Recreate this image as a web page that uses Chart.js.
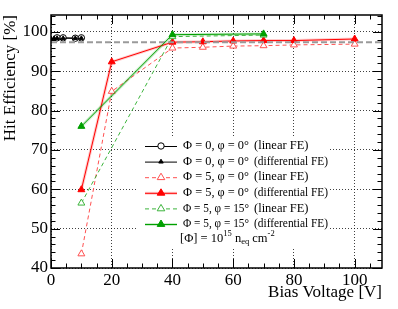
<!DOCTYPE html>
<html>
<head>
<meta charset="utf-8">
<script src="https://cdn.jsdelivr.net/npm/chart.js@4.4.1/dist/chart.umd.min.js"></script>
<style>
html, body { margin: 0; padding: 0; background: #fff; }
</style>
</head>
<body>
<canvas id="grafica" width="398" height="309"></canvas>
<script>
'use strict'
//Datos (voltaje en V, eficiencia en %)

//Φ = 0, φ = 0° (linear FE)
const x_lin0 = [2, 4, 8, 10];
const y_lin0 = [98.5, 98.5, 98.4, 98.5];
//Φ = 0, φ = 0° (differential FE)
const x_dif0 = [0, 1, 2, 4, 8, 10];
const y_dif0 = [98.3, 98.4, 98.4, 98.4, 98.4, 98.4];
//Φ = 5, φ = 0° (linear FE)
const x_lin5 = [10, 20, 40, 50, 60, 70, 80, 100];
const y_lin5 = [43.6, 84.9, 95.9, 96.1, 96.4, 96.5, 96.7, 96.9];
//Φ = 5, φ = 0° (differential FE)
const x_dif5 = [10, 20, 40, 50, 60, 70, 80, 100];
const y_dif5 = [59.9, 92.4, 97.4, 97.5, 97.7, 97.8, 97.8, 98.2];
//Φ = 5, φ = 15° (linear FE)
const x_lin15 = [10, 40, 70];
const y_lin15 = [56.5, 98.8, 99.2];
//Φ = 5, φ = 15° (differential FE)
const x_dif15 = [10, 40, 70];
const y_dif15 = [76.0, 99.3, 99.5];

//Línea de referencia gris
const referencia = 97.4;

//Ejes
const x_min = 0, x_max = 109;
const y_min = 40, y_max = 104.3;
const x_ticks = [0, 20, 40, 60, 80, 100];
const y_ticks = [40, 50, 60, 70, 80, 90, 100];

const serif = "'Liberation Serif', 'DejaVu Serif', serif";

function puntos(xs, ys) {
    return xs.map((x, i) => ({x: x, y: ys[i]}));
}

//Estilos de cada serie (también se usan en la leyenda)
const estilos = [
    {t1: 'Φ = 0, φ = 0°', t2: '(linear FE)', color: '#000000', dash: [], band: null, forma: 'circle', lleno: false, r: 3.2},
    {t1: 'Φ = 0, φ = 0°', t2: '(differential FE)', color: '#000000', dash: [], band: null, forma: 'triangle', lleno: true, r: 2.4},
    {t1: 'Φ = 5, φ = 0°', t2: '(linear FE)', color: '#ff5050', dash: [4, 3], band: null, forma: 'triangle', lleno: false, r: 4},
    {t1: 'Φ = 5, φ = 0°', t2: '(differential FE)', color: '#ff0000', dash: [], band: 'rgba(255,0,0,0.2)', forma: 'triangle', lleno: true, r: 4},
    {t1: 'Φ = 5, φ = 15°', t2: '(linear FE)', color: '#3cb43c', dash: [4, 3], band: null, forma: 'triangle', lleno: false, r: 4},
    {t1: 'Φ = 5, φ = 15°', t2: '(differential FE)', color: '#00a000', dash: [], band: 'rgba(0,160,0,0.2)', forma: 'triangle', lleno: true, r: 4}
];

const series = [
    puntos(x_lin0, y_lin0),
    puntos(x_dif0, y_dif0),
    puntos(x_lin5, y_lin5),
    puntos(x_dif5, y_dif5),
    puntos(x_lin15, y_lin15),
    puntos(x_dif15, y_dif15)
];

const datasets = [];
series.forEach((data, i) => {
    const e = estilos[i];
    if (e.band) {
        datasets.push({
            data: data,
            borderColor: e.band,
            borderWidth: 3,
            pointRadius: 0,
            order: 20 + i
        });
    }
    datasets.push({
        data: data,
        borderColor: e.color,
        borderWidth: 1,
        borderDash: e.dash,
        pointStyle: e.forma,
        pointRadius: e.r,
        pointBorderWidth: 1,
        pointBorderColor: e.color,
        pointBackgroundColor: e.lleno ? e.color : '#ffffff',
        order: 10 - i
    });
});

//Línea gris discontinua
datasets.push({
    data: [{x: x_min, y: referencia}, {x: x_max, y: referencia}],
    borderColor: '#9a9a9a',
    borderWidth: 2,
    borderDash: [6, 3],
    pointRadius: 0,
    order: 5
});

function triangulo(ctx, x, y, r) {
    ctx.beginPath();
    ctx.moveTo(x, y - r);
    ctx.lineTo(x + r * 0.95, y + r * 0.6);
    ctx.lineTo(x - r * 0.95, y + r * 0.6);
    ctx.closePath();
}

//Caja blanca de la leyenda
const cajaLeyenda = {
    id: 'cajaLeyenda',
    beforeDatasetsDraw(chart) {
        const ctx = chart.ctx;
        ctx.save();
        ctx.fillStyle = '#ffffff';
        ctx.fillRect(138, 137, 190, 110);
        ctx.restore();
    }
};

//Marco y marcas hacia dentro, estilo ROOT
const marcasEjes = {
    id: 'marcasEjes',
    afterDatasetsDraw(chart) {
        const ctx = chart.ctx;
        const a = chart.chartArea;
        const sx = chart.scales.x;
        const sy = chart.scales.y;
        ctx.save();
        ctx.strokeStyle = '#000';
        ctx.lineWidth = 1;
        ctx.beginPath();
        for (let v = x_min; v <= x_max; v += 5) {
            const px = Math.round(sx.getPixelForValue(v)) + 0.5;
            const l = (v % 20 === 0) ? 9 : 4.5;
            ctx.moveTo(px, a.bottom); ctx.lineTo(px, a.bottom - l);
            ctx.moveTo(px, a.top); ctx.lineTo(px, a.top + l);
        }
        for (let v = y_min; v <= y_max; v += 2) {
            const py = Math.round(sy.getPixelForValue(v)) + 0.5;
            const l = (v % 10 === 0) ? 9 : 4.5;
            ctx.moveTo(a.left, py); ctx.lineTo(a.left + l, py);
            ctx.moveTo(a.right, py); ctx.lineTo(a.right - l, py);
        }
        ctx.stroke();
        ctx.lineWidth = 1.5;
        ctx.strokeRect(a.left, a.top, a.right - a.left, a.bottom - a.top);
        ctx.restore();
    }
};

//Leyenda dibujada a mano
const leyendaROOT = {
    id: 'leyendaROOT',
    afterDraw(chart) {
        const ctx = chart.ctx;
        ctx.save();
        ctx.font = '12.5px ' + serif;
        ctx.textBaseline = 'middle';
        estilos.forEach((e, i) => {
            const y = 146 + i * 15.6;
            if (e.band) {
                ctx.strokeStyle = e.band;
                ctx.lineWidth = 3;
                ctx.setLineDash([]);
                ctx.beginPath(); ctx.moveTo(145, y + 0.5); ctx.lineTo(177, y + 0.5); ctx.stroke();
            }
            ctx.strokeStyle = e.color;
            ctx.lineWidth = 1;
            ctx.setLineDash(e.dash);
            ctx.beginPath(); ctx.moveTo(145, y + 0.5); ctx.lineTo(177, y + 0.5); ctx.stroke();
            ctx.setLineDash([]);
            ctx.fillStyle = e.lleno ? e.color : '#fff';
            if (e.forma === 'circle') {
                ctx.beginPath(); ctx.arc(161, y, e.r, 0, Math.PI * 2);
            } else {
                triangulo(ctx, 161, y, e.r);
            }
            ctx.fill(); ctx.stroke();
            ctx.fillStyle = '#000';
            ctx.fillText(e.t1, 183, y, 66);
            ctx.fillText(e.t2, 254, y, 74);
        });
        //[Φ] = 10^15 n_eq cm^-2
        let x = 180;
        const y = 238.5;
        const partes = [['[Φ] = 10', 0, 12.5], ['15', -5, 8.5], [' n', 0, 12.5], ['eq', 3, 8.5], [' cm', 0, 12.5], ['-2', -5, 8.5]];
        partes.forEach(p => {
            ctx.font = p[2] + 'px ' + serif;
            ctx.fillText(p[0], x, y + p[1]);
            x += ctx.measureText(p[0]).width;
        });
        ctx.restore();
    }
};

const ctx_eficiencia = document.getElementById('grafica').getContext('2d');

const grafica = new Chart(ctx_eficiencia, {
    type: 'line',
    data: {datasets: datasets},
    options: {
        animation: false,
        responsive: false,
        layout: {padding: {top: 15, right: 16, left: 0, bottom: 0}},
        plugins: {
            legend: {display: false},
            tooltip: {enabled: false}
        },
        scales: {
            x: {
                type: 'linear',
                min: x_min,
                max: x_max,
                afterBuildTicks: (s) => { s.ticks = x_ticks.map(v => ({value: v})); },
                afterFit: (s) => { s.height = 41; },
                ticks: {color: '#000', font: {family: serif, size: 17}, padding: 2, maxRotation: 0},
                grid: {color: 'rgba(0,0,0,0.75)', drawTicks: false},
                border: {display: false, dash: [1, 2]},
                title: {display: true, text: 'Bias Voltage [V]', align: 'end', color: '#000', font: {family: serif, size: 17}, padding: {top: 0, bottom: 6}}
            },
            y: {
                type: 'linear',
                min: y_min,
                max: y_max,
                afterBuildTicks: (s) => { s.ticks = y_ticks.map(v => ({value: v})); },
                afterFit: (s) => { s.width = 51; },
                ticks: {color: '#000', font: {family: serif, size: 17}, padding: 3},
                grid: {color: 'rgba(0,0,0,0.75)', drawTicks: false},
                border: {display: false, dash: [1, 2]},
                title: {display: true, text: 'Hit Efficiency [%]', align: 'end', color: '#000', font: {family: serif, size: 17}, padding: {top: 0, bottom: 0}}
            }
        }
    },
    plugins: [cajaLeyenda, marcasEjes, leyendaROOT]
});
</script>
</body>
</html>
